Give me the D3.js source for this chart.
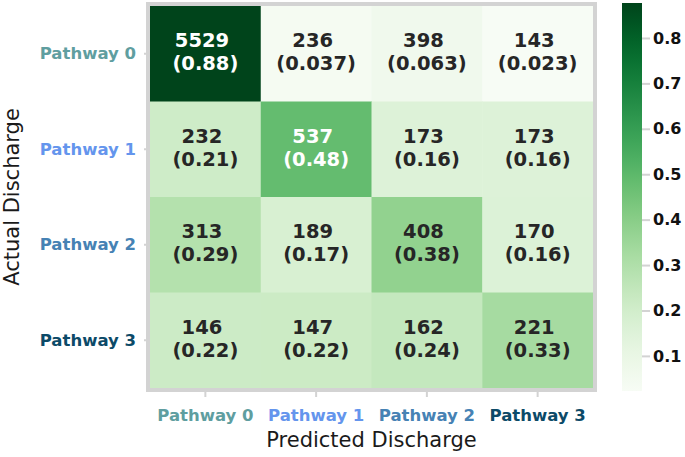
<!DOCTYPE html>
<html>
<head>
  <meta charset="utf-8">
  <script src="https://cdnjs.cloudflare.com/ajax/libs/d3/7.8.5/d3.min.js"></script>
  <style>
    body { margin: 0; background: #fff; }
    svg { font-family: "DejaVu Sans", sans-serif; }
  </style>
</head>
<body>
  <svg id="chart" width="685" height="457"></svg>

  <script>
    // confusion matrix, rows = actual, cols = predicted
    var labels = ["Pathway 0", "Pathway 1", "Pathway 2", "Pathway 3"];
    var labelColors = ["#5f9ea0", "#6495ed", "#4682b4", "#0c4a68"];
    var counts = [
      [5529, 236, 398, 143],
      [232, 537, 173, 173],
      [313, 189, 408, 170],
      [146, 147, 162, 221]
    ];
    var ratios = [
      [0.877, 0.0374, 0.0631, 0.0227],
      [0.208, 0.482, 0.155, 0.155],
      [0.290, 0.175, 0.378, 0.157],
      [0.216, 0.217, 0.240, 0.327]
    ];
    var ratioLabels = [
      ["0.88", "0.037", "0.063", "0.023"],
      ["0.21", "0.48", "0.16", "0.16"],
      ["0.29", "0.17", "0.38", "0.16"],
      ["0.22", "0.22", "0.24", "0.33"]
    ];
    var cbTicks = [0.1, 0.2, 0.3, 0.4, 0.5, 0.6, 0.7, 0.8];

    var svg = d3.select("#chart");
    var mLeft = 150, mTop = 6, gw = 443, gh = 382;
    var vmin = d3.min(ratios, r => d3.min(r));
    var vmax = d3.max(ratios, r => d3.max(r));

    var x = d3.scaleBand().domain(d3.range(4)).range([mLeft, mLeft + gw]);
    var y = d3.scaleBand().domain(d3.range(4)).range([mTop, mTop + gh]);
    var color = d3.scaleSequential(d3.interpolateGreens).domain([vmin, vmax]);

    var cells = [];
    counts.forEach(function (row, i) {
      row.forEach(function (c, j) {
        cells.push({ r: i, c: j, n: c, v: ratios[i][j], t: ratioLabels[i][j] });
      });
    });

    var g = svg.append("g");
    g.selectAll("rect.cell")
      .data(cells)
      .enter()
      .append("rect")
      .attr("class", "cell")
      .attr("x", d => x(d.c))
      .attr("y", d => y(d.r))
      .attr("width", x.bandwidth() + 0.5)
      .attr("height", y.bandwidth() + 0.5)
      .style("fill", d => color(d.v));

    // frame
    svg.append("rect")
      .attr("x", mLeft - 2).attr("y", mTop - 2)
      .attr("width", gw + 4).attr("height", gh + 4)
      .style("fill", "none")
      .style("stroke", "#d3d3d3")
      .style("stroke-width", 4);

    var txt = g.selectAll("text.cell")
      .data(cells)
      .enter()
      .append("text")
      .attr("class", "cell")
      .attr("text-anchor", "middle")
      .style("font-size", "19.5px")
      .style("font-weight", "bold")
      .style("fill", d => d.v > 0.45 ? "#ffffff" : "#262626");
    txt.append("tspan")
      .attr("x", d => x(d.c) + x.bandwidth() / 2 - 3.4)
      .attr("y", d => y(d.r) + y.bandwidth() / 2)
      .attr("dy", "-0.34em")
      .text(d => d.n);
    txt.append("tspan")
      .attr("x", d => x(d.c) + x.bandwidth() / 2)
      .attr("y", d => y(d.r) + y.bandwidth() / 2)
      .attr("dy", "0.84em")
      .text(d => "(" + d.t + ")");

    // x axis
    var xa = svg.append("g")
      .attr("transform", "translate(0," + (mTop + gh + 4) + ")")
      .call(d3.axisBottom(x).tickSize(5).tickPadding(12).tickFormat(i => labels[i]));
    xa.select(".domain").remove();
    xa.selectAll(".tick line").style("stroke", "#d3d3d3").style("stroke-width", 2);
    xa.selectAll(".tick text")
      .style("font-size", "16.5px").style("font-weight", "bold")
      .style("font-family", "DejaVu Sans")
      .style("fill", (d, i) => labelColors[i]);

    // y axis
    var ya = svg.append("g")
      .attr("transform", "translate(" + (mLeft - 1) + ",0)")
      .call(d3.axisLeft(y).tickSize(5).tickPadding(8).tickFormat(i => labels[i]));
    ya.select(".domain").remove();
    ya.selectAll(".tick line").style("stroke", "#d3d3d3").style("stroke-width", 2);
    ya.selectAll(".tick text")
      .style("font-size", "16.5px").style("font-weight", "bold")
      .style("font-family", "DejaVu Sans")
      .style("fill", (d, i) => labelColors[i]);

    svg.append("text")
      .attr("x", mLeft + gw / 2).attr("y", 447)
      .attr("text-anchor", "middle")
      .style("font-size", "21px").style("fill", "#1a1a1a")
      .text("Predicted Discharge");
    svg.append("text")
      .attr("transform", "translate(19," + (mTop + gh / 2) + ") rotate(-90)")
      .attr("text-anchor", "middle")
      .style("font-size", "21px").style("fill", "#1a1a1a")
      .text("Actual Discharge");

    // colorbar
    var cbx = 622, cbw = 20, cbTop = 3, cbBot = 391;
    var defs = svg.append("defs");
    var grad = defs.append("linearGradient").attr("id", "cb")
      .attr("x1", 0).attr("y1", 1).attr("x2", 0).attr("y2", 0);
    d3.range(0, 1.0001, 0.05).forEach(function (t) {
      grad.append("stop").attr("offset", t)
        .attr("stop-color", color(vmin + t * (vmax - vmin)));
    });
    svg.append("rect")
      .attr("x", cbx).attr("y", cbTop)
      .attr("width", cbw).attr("height", cbBot - cbTop)
      .style("fill", "url(#cb)");
    var cy = d3.scaleLinear().domain([vmin, vmax]).range([cbBot, cbTop]);
    var ca = svg.append("g")
      .attr("transform", "translate(" + (cbx + cbw + 4) + ",0)")
      .call(d3.axisRight(cy).tickValues(cbTicks).tickSize(8).tickPadding(4).tickFormat(d3.format(".1f")));
    ca.select(".domain").remove();
    ca.selectAll(".tick line").attr("x1", 0).attr("x2", -8)
      .attr("transform", "translate(4,0)")
      .style("stroke", "#d3d3d3").style("stroke-width", 2);
    ca.selectAll(".tick text")
      .attr("x", 7)
      .style("font-size", "16px").style("font-weight", "bold")
      .style("font-family", "DejaVu Sans").style("fill", "#111");
  </script>
</body>
</html>
